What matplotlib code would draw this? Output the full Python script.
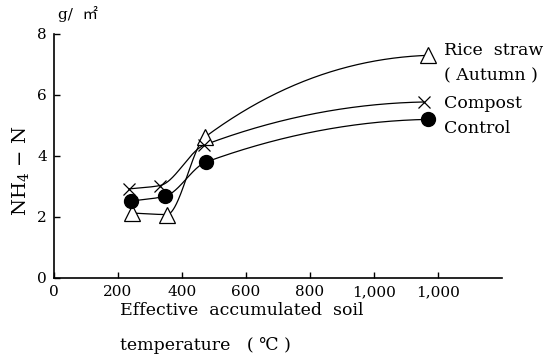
import numpy as np
import matplotlib.pyplot as plt

plt.rcParams['font.family'] = ['DejaVu Serif', 'Noto Sans CJK JP', 'DejaVu Sans']
plt.rcParams['mathtext.fontset'] = 'dejavuserif'

# effective accumulated soil temperature (degC) and NH4-N (g/m2)
x_straw = [244, 353, 472, 1169]
y_straw = [2.13, 2.08, 4.62, 7.3]
x_compost = [234, 331, 470, 1155]
y_compost = [2.92, 3.03, 4.36, 5.77]
x_control = [240, 347, 475, 1169]
y_control = [2.52, 2.68, 3.8, 5.2]

xticks = [0, 200, 400, 600, 800, 1000, 1200]
xticklabels = ['0', '200', '400', '600', '800', '1,000', '1,000']
yticks = [0, 2, 4, 6, 8]


def smooth(x, y, n=200):
    # monotone cubic hermite curve through the measured points
    x = np.asarray(x, float)
    y = np.asarray(y, float)
    h = np.diff(x)
    d = np.diff(y) / h
    m = np.zeros_like(y)
    for k in range(1, len(x) - 1):
        if d[k - 1] * d[k] > 0:
            w1 = 2 * h[k] + h[k - 1]
            w2 = h[k] + 2 * h[k - 1]
            m[k] = (w1 + w2) / (w1 / d[k - 1] + w2 / d[k])
    m[0] = d[0]
    m[-1] = d[-1] * 0.1
    xs, ys = [], []
    for k in range(len(x) - 1):
        t = np.linspace(0, 1, n)
        h00 = 2 * t**3 - 3 * t**2 + 1
        h10 = t**3 - 2 * t**2 + t
        h01 = -2 * t**3 + 3 * t**2
        h11 = t**3 - t**2
        xs.append(x[k] + t * h[k])
        ys.append(h00 * y[k] + h10 * h[k] * m[k] + h01 * y[k + 1] + h11 * h[k] * m[k + 1])
    return np.concatenate(xs), np.concatenate(ys)


fig = plt.figure(figsize=(5.45, 3.58), dpi=100)
ax = fig.add_axes([0.099, 0.2235, 0.822, 0.6816])

for xv, yv in [(x_straw, y_straw), (x_compost, y_compost), (x_control, y_control)]:
    sx, sy = smooth(xv, yv)
    ax.plot(sx, sy, color='black', lw=0.9, zorder=2)

ax.plot(x_straw, y_straw, ls='none', marker='^', ms=11, mfc='white', mec='black', mew=0.9, zorder=3)
ax.plot(x_compost, y_compost, ls='none', marker='x', ms=8, mec='black', mew=0.9, zorder=3)
ax.plot(x_control, y_control, ls='none', marker='o', ms=10, mfc='black', mec='black', zorder=4)

ax.set_xlim(0, 1400)
ax.set_ylim(0, 8)
ax.set_xticks(xticks)
ax.set_xticklabels(xticklabels)
ax.set_yticks(yticks)
for s in ['top', 'right']:
    ax.spines[s].set_visible(False)
ax.spines['left'].set_linewidth(1.2)
ax.spines['bottom'].set_linewidth(1.2)
ax.tick_params(direction='in', length=4, width=1, labelsize=11, colors='black')
ax.tick_params(axis='y', pad=5)
ax.tick_params(axis='x', pad=5)

ax.text(-0.075, 0.44, 'NH$_4$ − N', transform=ax.transAxes, rotation=90,
        ha='center', va='center', fontsize=14)
ax.text(0.01, 1.08, 'g/  ㎡', transform=ax.transAxes, ha='left', va='center', fontsize=11)

fig.text(0.22, 0.134, 'Effective  accumulated  soil', ha='left', va='center', fontsize=12.5)
fig.text(0.22, 0.036, 'temperature   ( ℃ )', ha='left', va='center', fontsize=12.5)

lbl = dict(ha='left', va='center', fontsize=12.5, transform=fig.transFigure)
fig.text(0.815, 0.858, 'Rice  straw', **lbl)
fig.text(0.815, 0.788, '( Autumn )', **lbl)
fig.text(0.815, 0.712, 'Compost', **lbl)
fig.text(0.815, 0.642, 'Control', **lbl)

fig.savefig('out.png', dpi=100)
